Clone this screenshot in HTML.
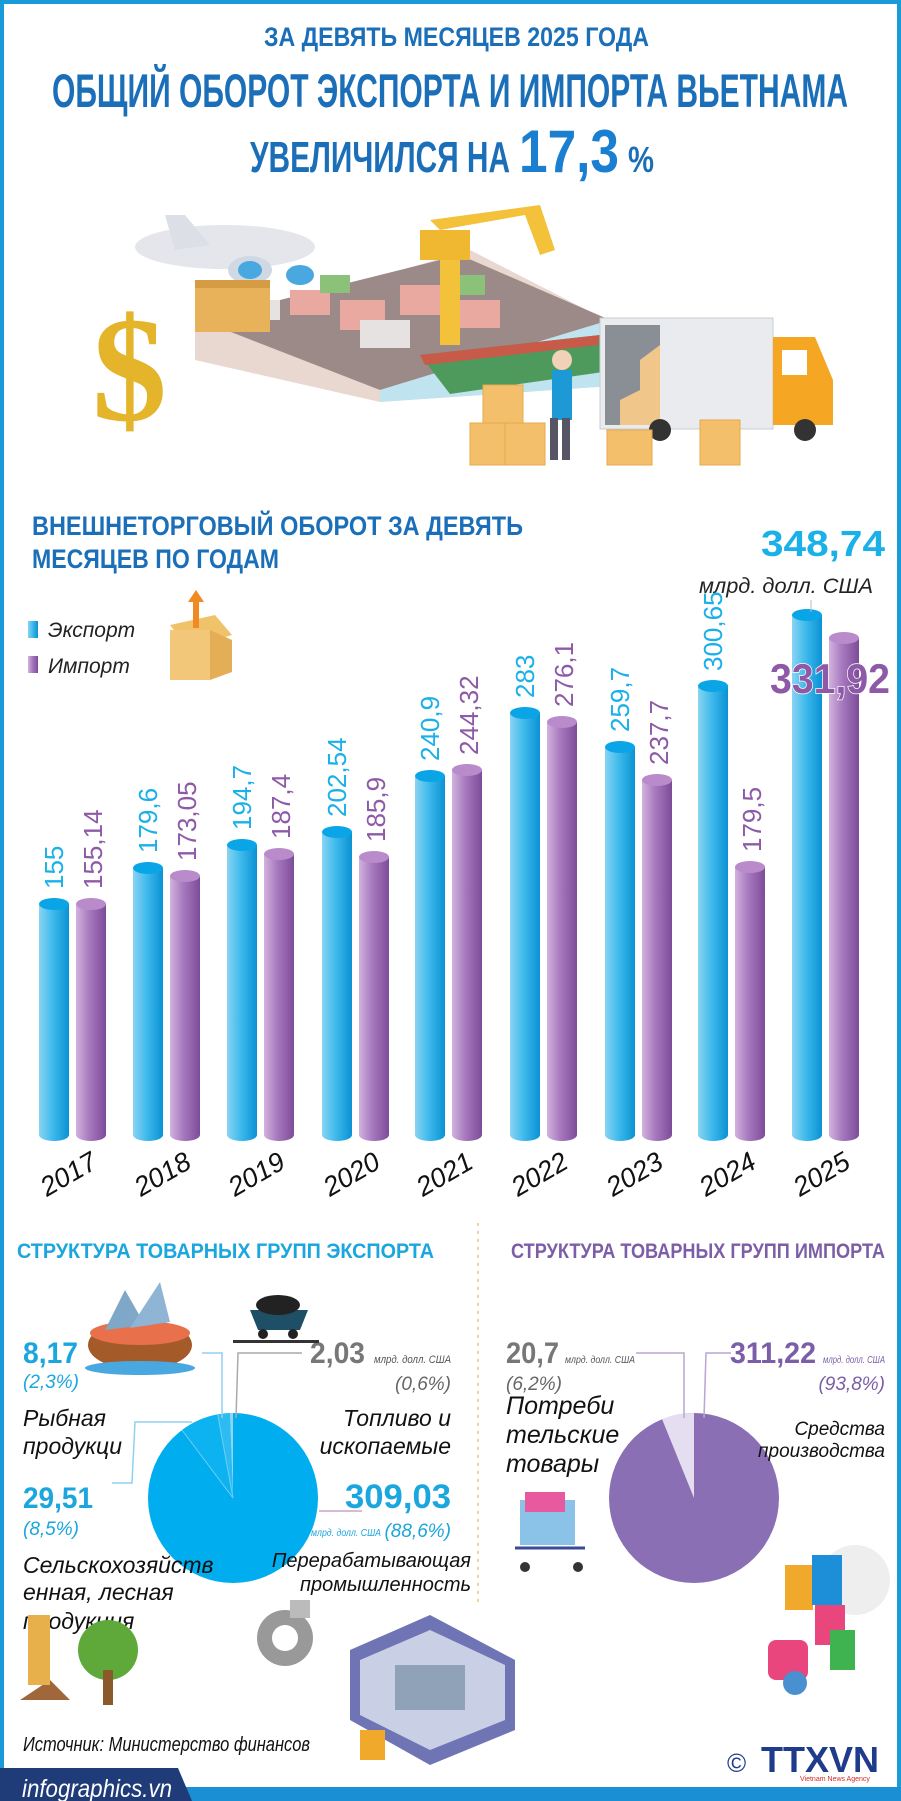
<!DOCTYPE html>
<html><head><meta charset="utf-8"><style>html,body{margin:0;padding:0;background:#fff}svg{display:block}</style></head><body>
<svg width="901" height="1801" viewBox="0 0 901 1801" xmlns="http://www.w3.org/2000/svg" font-family="'Liberation Sans Narrow','Liberation Sans',sans-serif">
<defs>
<linearGradient id="ge" x1="0" x2="1"><stop offset="0" stop-color="#8ad4f2"/><stop offset="0.45" stop-color="#3fbaec"/><stop offset="1" stop-color="#0a92d4"/></linearGradient>
<linearGradient id="gi" x1="0" x2="1"><stop offset="0" stop-color="#d2b2de"/><stop offset="0.45" stop-color="#a678bd"/><stop offset="1" stop-color="#7d4c99"/></linearGradient>
</defs>
<rect width="901" height="1801" fill="#fff"/>
<rect x="0" y="0" width="901" height="4" fill="#1a9ad6"/>
<rect x="0" y="0" width="4" height="1801" fill="#1a9ad6"/>
<rect x="897" y="0" width="4" height="1801" fill="#1a9ad6"/>
<rect x="0" y="1787" width="901" height="14" fill="#1a8fd3"/>
<polygon points="0,1768 178,1768 192,1801 0,1801" fill="#1f3b78"/>
<text x="22" y="1797" font-size="25" font-style="italic" fill="#fff" textLength="150" lengthAdjust="spacingAndGlyphs">infographics.vn</text>

<g fill="#1b6fb8" font-weight="bold">
<text x="264" y="46" font-size="27" textLength="385" lengthAdjust="spacingAndGlyphs">ЗА ДЕВЯТЬ МЕСЯЦЕВ 2025 ГОДА</text>
<text x="52" y="107" font-size="47" textLength="796" lengthAdjust="spacingAndGlyphs">ОБЩИЙ ОБОРОТ ЭКСПОРТА И ИМПОРТА ВЬЕТНАМА</text>
<text x="250" y="172" font-size="44" textLength="260" lengthAdjust="spacingAndGlyphs">УВЕЛИЧИЛСЯ НА</text>
<text x="519" y="172" font-size="60" fill="#1a7fd0" textLength="100" lengthAdjust="spacingAndGlyphs">17,3</text>
<text x="628" y="172" font-size="36" textLength="26" lengthAdjust="spacingAndGlyphs">%</text>
</g>

<g>
<polygon points="195,330 470,250 626,330 626,385 380,402 195,360" fill="#e8d8d0"/>
<polygon points="200,320 460,255 610,320 380,390" fill="#9c8a88"/>
<polygon points="380,390 610,320 626,385 380,402" fill="#bfe3ef"/>
<g fill="#e9a8a0"><rect x="290" y="290" width="40" height="25"/><rect x="340" y="300" width="45" height="30"/><rect x="400" y="285" width="40" height="30"/><rect x="460" y="300" width="40" height="28"/></g>
<g fill="#8cc17a"><rect x="320" y="275" width="30" height="18"/><rect x="450" y="275" width="35" height="20"/></g>
<g fill="#e7e2e2"><rect x="360" y="320" width="50" height="28"/><rect x="250" y="300" width="30" height="20"/></g>
<polygon points="420,355 600,335 603,372 450,394" fill="#4e9a5c"/>
<polygon points="420,355 600,335 598,345 425,365" fill="#c85a4a"/>
<rect x="440" y="255" width="20" height="90" fill="#f3c13a"/>
<polygon points="430,220 540,205 555,250 540,255 525,215 440,230" fill="#f3c13a"/>
<rect x="420" y="230" width="50" height="30" fill="#f0b830"/>
<ellipse cx="225" cy="247" rx="90" ry="22" fill="#e4e6ec"/>
<polygon points="165,215 185,215 210,245 175,250" fill="#dcdfe6"/>
<ellipse cx="250" cy="270" rx="22" ry="14" fill="#cfd8e3"/>
<ellipse cx="250" cy="270" rx="12" ry="9" fill="#4aa8e0"/>
<ellipse cx="300" cy="275" rx="14" ry="10" fill="#4aa8e0"/>
<rect x="195" y="280" width="75" height="52" fill="#e8b25a"/>
<rect x="195" y="280" width="75" height="8" fill="#d59c44"/>
<text x="92" y="420" font-size="150" font-weight="bold" fill="#e4b42a" font-family="'Liberation Serif',serif">$</text>
<rect x="600" y="318" width="173" height="111" fill="#e9ebee" stroke="#c8ccd2"/>
<rect x="605" y="325" width="55" height="100" fill="#8a8f96"/>
<polygon points="620,425 660,425 660,345 640,360 640,390 620,400" fill="#f0c68a"/>
<path d="M773,337 L815,337 L833,380 L833,425 L773,425 Z" fill="#f5a623"/>
<rect x="782" y="350" width="25" height="25" fill="#fff"/>
<g fill="#333"><circle cx="660" cy="430" r="11"/><circle cx="805" cy="430" r="11"/></g>
<g fill="#f4bf6a" stroke="#e4a94d"><rect x="483" y="385" width="40" height="38"/><rect x="470" y="423" width="35" height="42"/><rect x="505" y="423" width="40" height="42"/><rect x="607" y="430" width="45" height="35"/><rect x="700" y="420" width="40" height="45"/></g>
<rect x="552" y="370" width="20" height="50" fill="#1d9ad6"/>
<circle cx="562" cy="360" r="10" fill="#f0d2b8"/>
<rect x="550" y="418" width="8" height="42" fill="#556"/><rect x="562" y="418" width="8" height="42" fill="#556"/>
</g>

<g fill="#1b6fb8" font-weight="bold">
<text x="32" y="535" font-size="27" textLength="491" lengthAdjust="spacingAndGlyphs">ВНЕШНЕТОРГОВЫЙ ОБОРОТ ЗА ДЕВЯТЬ</text>
<text x="32" y="568" font-size="27" textLength="247" lengthAdjust="spacingAndGlyphs">МЕСЯЦЕВ ПО ГОДАМ</text>
</g>
<text x="761" y="556" font-size="36" font-weight="bold" fill="#1ab0e8" textLength="124" lengthAdjust="spacingAndGlyphs">348,74</text>
<text x="699" y="593" font-size="21" font-style="italic" fill="#222" textLength="174" lengthAdjust="spacingAndGlyphs">млрд. долл. США</text>

<rect x="28" y="621" width="10" height="17" fill="url(#ge)"/>
<text x="48" y="637" font-size="21" font-style="italic" fill="#222">Экспорт</text>
<rect x="28" y="656" width="10" height="17" fill="url(#gi)"/>
<text x="48" y="673" font-size="21" font-style="italic" fill="#222">Импорт</text>
<g>
<polygon points="170,625 215,615 232,635 188,648" fill="#f0c36a"/>
<rect x="170" y="630" width="40" height="50" fill="#f3c779"/>
<polygon points="210,630 232,640 232,672 210,680" fill="#e3ae56"/>
<rect x="193" y="598" width="6" height="30" fill="#f08a24"/>
<polygon points="188,602 196,590 204,602" fill="#f08a24"/>
</g>

<g>
<rect x="39" y="904" width="30" height="231" fill="url(#ge)"/><ellipse cx="54" cy="904" rx="15" ry="6" fill="#0aa5e6"/><ellipse cx="54" cy="1135" rx="15" ry="6" fill="url(#ge)"/>
<rect x="76" y="904" width="30" height="231" fill="url(#gi)"/><ellipse cx="91" cy="904" rx="15" ry="6" fill="#b98bcb"/><ellipse cx="91" cy="1135" rx="15" ry="6" fill="url(#gi)"/>
<rect x="133" y="868" width="30" height="267" fill="url(#ge)"/><ellipse cx="148" cy="868" rx="15" ry="6" fill="#0aa5e6"/><ellipse cx="148" cy="1135" rx="15" ry="6" fill="url(#ge)"/>
<rect x="170" y="876" width="30" height="259" fill="url(#gi)"/><ellipse cx="185" cy="876" rx="15" ry="6" fill="#b98bcb"/><ellipse cx="185" cy="1135" rx="15" ry="6" fill="url(#gi)"/>
<rect x="227" y="845" width="30" height="290" fill="url(#ge)"/><ellipse cx="242" cy="845" rx="15" ry="6" fill="#0aa5e6"/><ellipse cx="242" cy="1135" rx="15" ry="6" fill="url(#ge)"/>
<rect x="264" y="854" width="30" height="281" fill="url(#gi)"/><ellipse cx="279" cy="854" rx="15" ry="6" fill="#b98bcb"/><ellipse cx="279" cy="1135" rx="15" ry="6" fill="url(#gi)"/>
<rect x="322" y="832" width="30" height="303" fill="url(#ge)"/><ellipse cx="337" cy="832" rx="15" ry="6" fill="#0aa5e6"/><ellipse cx="337" cy="1135" rx="15" ry="6" fill="url(#ge)"/>
<rect x="359" y="857" width="30" height="278" fill="url(#gi)"/><ellipse cx="374" cy="857" rx="15" ry="6" fill="#b98bcb"/><ellipse cx="374" cy="1135" rx="15" ry="6" fill="url(#gi)"/>
<rect x="415" y="776" width="30" height="359" fill="url(#ge)"/><ellipse cx="430" cy="776" rx="15" ry="6" fill="#0aa5e6"/><ellipse cx="430" cy="1135" rx="15" ry="6" fill="url(#ge)"/>
<rect x="452" y="770" width="30" height="365" fill="url(#gi)"/><ellipse cx="467" cy="770" rx="15" ry="6" fill="#b98bcb"/><ellipse cx="467" cy="1135" rx="15" ry="6" fill="url(#gi)"/>
<rect x="510" y="713" width="30" height="422" fill="url(#ge)"/><ellipse cx="525" cy="713" rx="15" ry="6" fill="#0aa5e6"/><ellipse cx="525" cy="1135" rx="15" ry="6" fill="url(#ge)"/>
<rect x="547" y="722" width="30" height="413" fill="url(#gi)"/><ellipse cx="562" cy="722" rx="15" ry="6" fill="#b98bcb"/><ellipse cx="562" cy="1135" rx="15" ry="6" fill="url(#gi)"/>
<rect x="605" y="747" width="30" height="388" fill="url(#ge)"/><ellipse cx="620" cy="747" rx="15" ry="6" fill="#0aa5e6"/><ellipse cx="620" cy="1135" rx="15" ry="6" fill="url(#ge)"/>
<rect x="642" y="780" width="30" height="355" fill="url(#gi)"/><ellipse cx="657" cy="780" rx="15" ry="6" fill="#b98bcb"/><ellipse cx="657" cy="1135" rx="15" ry="6" fill="url(#gi)"/>
<rect x="698" y="686" width="30" height="449" fill="url(#ge)"/><ellipse cx="713" cy="686" rx="15" ry="6" fill="#0aa5e6"/><ellipse cx="713" cy="1135" rx="15" ry="6" fill="url(#ge)"/>
<rect x="735" y="867" width="30" height="268" fill="url(#gi)"/><ellipse cx="750" cy="867" rx="15" ry="6" fill="#b98bcb"/><ellipse cx="750" cy="1135" rx="15" ry="6" fill="url(#gi)"/>
<rect x="792" y="615" width="30" height="520" fill="url(#ge)"/><ellipse cx="807" cy="615" rx="15" ry="6" fill="#0aa5e6"/><ellipse cx="807" cy="1135" rx="15" ry="6" fill="url(#ge)"/>
<rect x="829" y="638" width="30" height="497" fill="url(#gi)"/><ellipse cx="844" cy="638" rx="15" ry="6" fill="#b98bcb"/><ellipse cx="844" cy="1135" rx="15" ry="6" fill="url(#gi)"/>
<line x1="811" y1="600" x2="811" y2="612" stroke="#bbb" stroke-width="1"/>
</g>

<g font-size="26" font-family="'Liberation Sans','DejaVu Sans',sans-serif">
<g fill="#1ab0e8">
<text transform="translate(63,889) rotate(-90)">155</text>
<text transform="translate(157,853) rotate(-90)">179,6</text>
<text transform="translate(251,830) rotate(-90)">194,7</text>
<text transform="translate(346,817) rotate(-90)">202,54</text>
<text transform="translate(439,761) rotate(-90)">240,9</text>
<text transform="translate(534,698) rotate(-90)">283</text>
<text transform="translate(629,732) rotate(-90)">259,7</text>
<text transform="translate(722,671) rotate(-90)">300,65</text>
</g>
<g fill="#8e5aa8">
<text transform="translate(102,889) rotate(-90)">155,14</text>
<text transform="translate(196,861) rotate(-90)">173,05</text>
<text transform="translate(290,839) rotate(-90)">187,4</text>
<text transform="translate(385,842) rotate(-90)">185,9</text>
<text transform="translate(478,755) rotate(-90)">244,32</text>
<text transform="translate(573,707) rotate(-90)">276,1</text>
<text transform="translate(668,765) rotate(-90)">237,7</text>
<text transform="translate(761,852) rotate(-90)">179,5</text>
</g>
</g>
<text x="770" y="693" font-size="42" font-weight="bold" fill="#8e5aa8" stroke="#fff" stroke-width="1.5" paint-order="stroke" textLength="120" lengthAdjust="spacingAndGlyphs">331,92</text>

<g font-size="27" font-style="italic" fill="#111" text-anchor="middle" font-family="'Liberation Sans',sans-serif">
<text transform="translate(73,1182) rotate(-30)">2017</text>
<text transform="translate(167,1182) rotate(-30)">2018</text>
<text transform="translate(261,1182) rotate(-30)">2019</text>
<text transform="translate(356,1182) rotate(-30)">2020</text>
<text transform="translate(449,1182) rotate(-30)">2021</text>
<text transform="translate(544,1182) rotate(-30)">2022</text>
<text transform="translate(639,1182) rotate(-30)">2023</text>
<text transform="translate(732,1182) rotate(-30)">2024</text>
<text transform="translate(826,1182) rotate(-30)">2025</text>
</g>

<line x1="478" y1="1223" x2="478" y2="1602" stroke="#f0c27a" stroke-width="1.5" stroke-dasharray="3,5"/>

<text x="17" y="1258" font-size="21" font-weight="bold" fill="#1ba6de" textLength="417" lengthAdjust="spacingAndGlyphs">СТРУКТУРА ТОВАРНЫХ ГРУПП ЭКСПОРТА</text>
<text x="511" y="1258" font-size="21" font-weight="bold" fill="#7b5ea7" textLength="374" lengthAdjust="spacingAndGlyphs">СТРУКТУРА ТОВАРНЫХ ГРУПП ИМПОРТА</text>

<circle cx="233" cy="1498" r="85" fill="#00aeef"/>
<path d="M233,1498 L233,1413 A85,85 0 0,0 229.8,1413.1 Z" fill="#8fd6f5"/>
<path d="M233,1498 L229.8,1413.1 A85,85 0 0,0 217.7,1414.4 Z" fill="#2cbcf2"/>
<path d="M233,1498 L217.7,1414.4 A85,85 0 0,0 182,1430 Z" fill="#0db3f0"/>
<line x1="233" y1="1498" x2="217.7" y2="1414.4" stroke="#6fcdf3" stroke-width="1"/>
<line x1="233" y1="1498" x2="182" y2="1430" stroke="#6fcdf3" stroke-width="1"/>
<g fill="none" stroke-width="1.5">
<polyline points="202,1353 222,1353 222,1418" stroke="#8fd0ef"/>
<polyline points="302,1353 238,1353 236,1418" stroke="#aaa"/>
<polyline points="192,1422 135,1422 132,1483 112,1483" stroke="#8fd0ef"/>
<line x1="319" y1="1511" x2="362" y2="1511" stroke="#c9a3c9"/>
</g>
<g>
<text x="23" y="1363" font-size="30" font-weight="bold" fill="#1ba6de" textLength="55" lengthAdjust="spacingAndGlyphs">8,17</text>
<text x="23" y="1388" font-size="19" font-style="italic" fill="#1ba6de">(2,3%)</text>
<text x="23" y="1426" font-size="23" font-style="italic" fill="#111">Рыбная</text>
<text x="23" y="1454" font-size="23" font-style="italic" fill="#111">продукци</text>
<text x="23" y="1508" font-size="30" font-weight="bold" fill="#1ba6de" textLength="70" lengthAdjust="spacingAndGlyphs">29,51</text>
<text x="23" y="1535" font-size="19" font-style="italic" fill="#1ba6de">(8,5%)</text>
<text x="23" y="1573" font-size="23" font-style="italic" fill="#111">Сельскохозяйств</text>
<text x="23" y="1600" font-size="23" font-style="italic" fill="#111">енная, лесная</text>
<text x="23" y="1629" font-size="23" font-style="italic" fill="#111">продукция</text>
<text x="310" y="1363" font-size="30" font-weight="bold" fill="#777" textLength="55" lengthAdjust="spacingAndGlyphs">2,03</text>
<text x="374" y="1363" font-size="11" font-style="italic" fill="#555" textLength="77" lengthAdjust="spacingAndGlyphs">млрд. долл. США</text>
<text x="451" y="1390" font-size="19" font-style="italic" fill="#666" text-anchor="end">(0,6%)</text>
<text x="451" y="1426" font-size="23" font-style="italic" fill="#111" text-anchor="end">Топливо и</text>
<text x="451" y="1454" font-size="23" font-style="italic" fill="#111" text-anchor="end">ископаемые</text>
<text x="345" y="1508" font-size="34" font-weight="bold" fill="#1ba6de" textLength="106" lengthAdjust="spacingAndGlyphs">309,03</text>
<text x="451" y="1537" font-size="19" font-style="italic" fill="#1ba6de" text-anchor="end">(88,6%)</text>
<text x="311" y="1536" font-size="10" font-style="italic" fill="#1ba6de" textLength="70" lengthAdjust="spacingAndGlyphs">млрд. долл. США</text>
<text x="471" y="1567" font-size="20" font-style="italic" fill="#111" text-anchor="end">Перерабатывающая</text>
<text x="471" y="1591" font-size="20" font-style="italic" fill="#111" text-anchor="end">промышленность</text>

<circle cx="694" cy="1498" r="85" fill="#8b6fb4"/>
<path d="M694,1498 L694,1413 A85,85 0 0,0 662,1419 Z" fill="#e4def0"/>
<g fill="none" stroke-width="1.5">
<polyline points="636,1353 684,1353 684,1418" stroke="#b9a6d1"/>
<polyline points="731,1353 706,1353 704,1418" stroke="#b9a6d1"/>
</g>
<text x="506" y="1363" font-size="30" font-weight="bold" fill="#777" textLength="53" lengthAdjust="spacingAndGlyphs">20,7</text>
<text x="565" y="1363" font-size="10" font-style="italic" fill="#555" textLength="70" lengthAdjust="spacingAndGlyphs">млрд. долл. США</text>
<text x="506" y="1390" font-size="19" font-style="italic" fill="#666">(6,2%)</text>
<text x="506" y="1414" font-size="25" font-style="italic" fill="#111">Потреби</text>
<text x="506" y="1443" font-size="25" font-style="italic" fill="#111">тельские</text>
<text x="506" y="1472" font-size="25" font-style="italic" fill="#111">товары</text>
<text x="730" y="1363" font-size="30" font-weight="bold" fill="#7b5ea7" textLength="86" lengthAdjust="spacingAndGlyphs">311,22</text>
<text x="823" y="1363" font-size="10" font-style="italic" fill="#7b5ea7" textLength="62" lengthAdjust="spacingAndGlyphs">млрд. долл. США</text>
<text x="885" y="1390" font-size="19" font-style="italic" fill="#7b5ea7" text-anchor="end">(93,8%)</text>
<text x="885" y="1435" font-size="19" font-style="italic" fill="#111" text-anchor="end">Средства</text>
<text x="885" y="1457" font-size="19" font-style="italic" fill="#111" text-anchor="end">производства</text>

<text x="23" y="1751" font-size="20" font-style="italic" fill="#111" textLength="287" lengthAdjust="spacingAndGlyphs">Источник: Министерство финансов</text>
</g>

<g>
<ellipse cx="140" cy="1345" rx="52" ry="25" fill="#a55a2a"/>
<ellipse cx="140" cy="1333" rx="50" ry="12" fill="#e8704a"/>
<polygon points="105,1330 125,1290 145,1325" fill="#7fa8c8"/>
<polygon points="130,1328 160,1282 170,1322" fill="#8fb4d4"/>
<ellipse cx="140" cy="1368" rx="55" ry="7" fill="#4aa8e0"/>
<polygon points="250,1310 308,1310 300,1330 258,1330" fill="#1f4f66"/>
<ellipse cx="278" cy="1305" rx="22" ry="10" fill="#222"/>
<circle cx="263" cy="1334" r="5" fill="#222"/><circle cx="293" cy="1334" r="5" fill="#222"/>
<rect x="233" y="1340" width="86" height="3" fill="#333"/>
<rect x="520" y="1500" width="55" height="45" fill="#8bc3e8"/>
<rect x="525" y="1492" width="40" height="20" fill="#e85aa0"/>
<line x1="515" y1="1548" x2="585" y2="1548" stroke="#3a4a9a" stroke-width="3"/>
<circle cx="525" cy="1567" r="5" fill="#333"/><circle cx="578" cy="1567" r="5" fill="#333"/>
<circle cx="855" cy="1580" r="35" fill="#eee"/>
<rect x="785" y="1565" width="28" height="45" fill="#f0a92a"/>
<rect x="812" y="1555" width="30" height="50" fill="#1d8fd8"/>
<rect x="815" y="1605" width="30" height="40" fill="#e8467c"/>
<rect x="830" y="1630" width="25" height="40" fill="#3fb34f"/>
<rect x="768" y="1640" width="40" height="40" rx="8" fill="#e8467c"/>
<circle cx="795" cy="1683" r="12" fill="#4a90d0"/>
<polygon points="20,1700 70,1700 50,1680" fill="#a0673a"/>
<rect x="28" y="1615" width="22" height="70" fill="#e8b04a"/>
<circle cx="108" cy="1650" r="30" fill="#5fa83a"/>
<rect x="103" y="1670" width="10" height="35" fill="#8a5a2a"/>
<circle cx="285" cy="1638" r="28" fill="#999"/>
<circle cx="285" cy="1638" r="13" fill="#fff"/>
<rect x="290" y="1600" width="20" height="18" fill="#bbb"/>
<polygon points="350,1650 430,1615 515,1660 515,1730 430,1765 350,1720" fill="#6f74b4"/>
<polygon points="360,1660 430,1630 505,1665 505,1720 430,1750 360,1715" fill="#c9cfe4"/>
<rect x="395" y="1665" width="70" height="45" fill="#8fa2b8"/>
<rect x="360" y="1730" width="25" height="30" fill="#f0a92a"/>
<text x="727" y="1772" font-size="26" fill="#1f3b8b" font-family="'Liberation Sans',sans-serif">©</text>
<text x="761" y="1772" font-size="36" font-weight="bold" fill="#1f3b8b" textLength="118" lengthAdjust="spacingAndGlyphs">TTXVN</text>
<text x="800" y="1781" font-size="7" fill="#d02a2a" font-family="'Liberation Sans',sans-serif">Vietnam News Agency</text>
</g>
</svg>
</body></html>
